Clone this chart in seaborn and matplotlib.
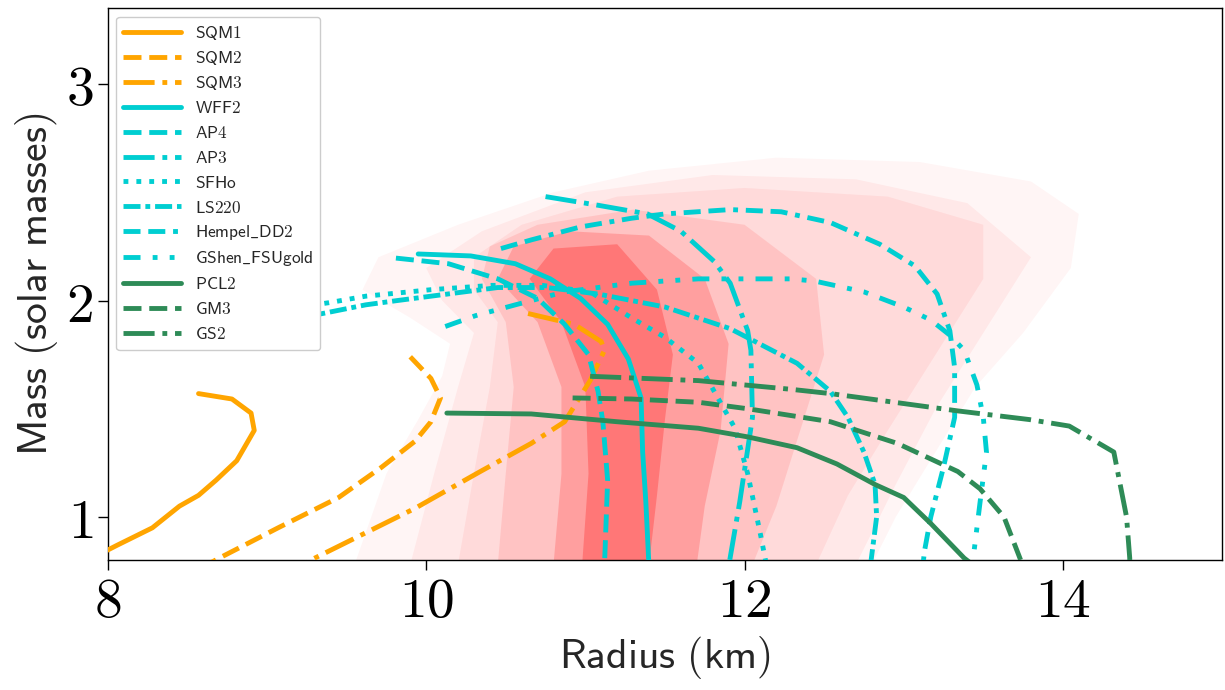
import pandas as pd
import seaborn as sns
from matplotlib import pyplot as plt
from matplotlib.lines import Line2D
from matplotlib.ticker import FuncFormatter

# mass-radius curves: radius (km), mass (solar masses)
sqm1_r = [8.57, 8.78, 8.90, 8.92, 8.81, 8.68, 8.57, 8.45, 8.28, 8.06, 7.90]
sqm1_m = [1.57, 1.545, 1.48, 1.40, 1.26, 1.17, 1.10, 1.05, 0.95, 0.87, 0.81]
sqm2_r = [9.90, 10.03, 10.09, 10.03, 9.93, 9.72, 9.45, 9.07, 8.70, 8.60]
sqm2_m = [1.74, 1.64, 1.55, 1.44, 1.35, 1.23, 1.09, 0.95, 0.81, 0.77]
sqm3_r = [10.64, 10.93, 11.10, 11.12, 11.03, 10.87, 10.66, 10.34, 9.93, 9.30, 9.20]
sqm3_m = [1.94, 1.89, 1.81, 1.77, 1.63, 1.44, 1.34, 1.21, 1.04, 0.81, 0.77]
wff2_r = [9.95, 10.28, 10.56, 10.78, 10.97, 11.14, 11.27, 11.35, 11.36, 11.38, 11.40]
wff2_m = [2.215, 2.206, 2.17, 2.10, 2.01, 1.89, 1.73, 1.55, 1.30, 1.07, 0.77]
ap4_r = [9.81, 10.14, 10.45, 10.70, 10.87, 11.02, 11.08, 11.11, 11.14, 11.12]
ap4_m = [2.196, 2.17, 2.10, 2.01, 1.89, 1.75, 1.58, 1.44, 1.17, 0.77]
ap3_r = [10.75, 11.08, 11.39, 11.60, 11.81, 11.91, 12.02, 12.04, 12.05, 11.97, 11.90]
ap3_m = [2.48, 2.44, 2.40, 2.32, 2.18, 2.08, 1.86, 1.77, 1.46, 1.07, 0.77]
sfho_r = [9.20, 9.39, 9.62, 10.03, 10.41, 10.73, 11.03, 11.29, 11.50, 11.71, 11.94, 12.02, 12.10, 12.14]
sfho_m = [1.97, 1.99, 2.02, 2.05, 2.07, 2.07, 2.04, 1.92, 1.83, 1.71, 1.41, 1.20, 0.92, 0.77]
ls220_r = [9.20, 9.35, 9.62, 9.82, 10.03, 10.24, 10.45, 10.76, 11.08, 11.50, 11.91,
           12.33, 12.54, 12.65, 12.75, 12.82, 12.83, 12.79]
ls220_m = [1.92, 1.94, 1.98, 2.00, 2.02, 2.04, 2.06, 2.06, 2.03, 1.97, 1.87,
           1.71, 1.58, 1.46, 1.30, 1.15, 1.00, 0.77]
dd2_r = [10.47, 10.66, 10.97, 11.29, 11.50, 11.91, 12.23, 12.54, 12.85, 13.07,
         13.21, 13.29, 13.32, 13.32, 13.25, 13.17, 13.13, 13.12]
dd2_m = [2.24, 2.28, 2.34, 2.38, 2.40, 2.42, 2.41, 2.36, 2.26, 2.16,
         2.03, 1.86, 1.69, 1.46, 1.23, 1.00, 0.84, 0.77]
fsu_r = [10.12, 10.31, 10.56, 10.87, 11.29, 11.71, 12.29, 12.44, 12.75, 13.00,
         13.17, 13.29, 13.38, 13.46, 13.50, 13.52, 13.48, 13.43]
fsu_m = [1.88, 1.93, 1.98, 2.04, 2.08, 2.10, 2.10, 2.09, 2.04, 1.97,
         1.91, 1.84, 1.77, 1.61, 1.46, 1.30, 1.07, 0.77]
pcl2_r = [10.13, 10.66, 11.20, 11.71, 12.02, 12.33, 12.58, 12.82, 13.00, 13.17, 13.38, 13.45]
pcl2_m = [1.48, 1.476, 1.44, 1.41, 1.37, 1.32, 1.245, 1.15, 1.09, 0.97, 0.81, 0.77]
gm3_r = [10.92, 11.29, 11.71, 12.02, 12.54, 12.96, 13.34, 13.48, 13.63, 13.73, 13.75]
gm3_m = [1.55, 1.545, 1.53, 1.50, 1.44, 1.34, 1.21, 1.13, 1.00, 0.81, 0.77]
gs2_r = [11.03, 11.71, 12.29, 12.54, 13.34, 13.79, 14.04, 14.32, 14.36, 14.40, 14.42, 14.42]
gs2_m = [1.65, 1.63, 1.59, 1.57, 1.49, 1.45, 1.42, 1.30, 1.15, 1.00, 0.81, 0.77]

eos_names = ['SQM1', 'SQM2', 'SQM3', 'WFF2', 'AP4', 'AP3', 'SFHo', 'LS220',
             'Hempel_DD2', 'GShen_FSUgold', 'PCL2', 'GM3', 'GS2']
eos_data = [(sqm1_r, sqm1_m), (sqm2_r, sqm2_m), (sqm3_r, sqm3_m), (wff2_r, wff2_m),
            (ap4_r, ap4_m), (ap3_r, ap3_m), (sfho_r, sfho_m), (ls220_r, ls220_m),
            (dd2_r, dd2_m), (fsu_r, fsu_m), (pcl2_r, pcl2_m), (gm3_r, gm3_m), (gs2_r, gs2_m)]

# posterior cloud drawn as nested density bands (outer -> inner), polygon vertices
band_r = [
    [9.55, 9.75, 9.95, 10.1, 10.15, 9.9, 9.6, 9.7, 10.2, 10.8, 11.4, 12.2, 13.1, 13.8,
     14.1, 14.05, 13.75, 13.45, 13.2, 12.95, 12.8],
    [9.9, 10.05, 10.2, 10.3, 10.1, 10.0, 10.35, 11.0, 11.8, 12.7, 13.4, 13.8, 13.5,
     13.2, 12.95, 12.7],
    [10.2, 10.3, 10.4, 10.45, 10.3, 10.3, 10.6, 11.2, 12.0, 12.9, 13.5, 13.5, 13.2,
     12.9, 12.65, 12.45],
    [10.45, 10.5, 10.55, 10.5, 10.35, 10.4, 10.7, 11.3, 12.0, 12.45, 12.5, 12.35, 12.2, 12.05],
    [10.8, 10.85, 10.85, 10.7, 10.45, 10.55, 10.9, 11.4, 11.75, 11.9, 11.85, 11.75, 11.7],
    [10.98, 11.02, 11.0, 10.85, 10.65, 10.8, 11.2, 11.45, 11.55, 11.5, 11.45, 11.4],
]
band_m = [
    [0.78, 1.2, 1.45, 1.65, 1.8, 1.92, 2.05, 2.2, 2.35, 2.5, 2.6, 2.66, 2.64, 2.55,
     2.4, 2.15, 1.85, 1.6, 1.3, 1.0, 0.78],
    [0.78, 1.2, 1.6, 1.85, 2.0, 2.15, 2.32, 2.5, 2.58, 2.56, 2.45, 2.2, 1.85, 1.5, 1.15, 0.78],
    [0.78, 1.2, 1.6, 1.9, 2.05, 2.2, 2.35, 2.48, 2.52, 2.48, 2.35, 2.1, 1.75, 1.4, 1.1, 0.78],
    [0.78, 1.2, 1.6, 1.9, 2.1, 2.25, 2.35, 2.42, 2.35, 2.1, 1.75, 1.4, 1.05, 0.78],
    [0.78, 1.2, 1.6, 1.9, 2.1, 2.25, 2.32, 2.3, 2.1, 1.8, 1.4, 1.05, 0.78],
    [0.78, 1.2, 1.6, 1.9, 2.1, 2.24, 2.26, 2.05, 1.75, 1.45, 1.1, 0.78],
]
band_alpha = [0.04, 0.05, 0.06, 0.1, 0.18, 0.25]

x_ticks = [8, 10, 12, 14]
y_ticks = [1, 2, 3]

palette = {n: 'orange' for n in eos_names[:3]}
palette.update({n: 'darkturquoise' for n in eos_names[3:10]})
palette.update({n: 'seagreen' for n in eos_names[10:]})
dashes = {
    'SQM1': '', 'SQM2': (3.7, 1.6), 'SQM3': (6.4, 1.6, 1, 1.6),
    'WFF2': '', 'AP4': (3.7, 1.6), 'AP3': (6.4, 1.6, 1, 1.6),
    'SFHo': (1, 1.65), 'LS220': (3.5, 1, 1, 1),
    'Hempel_DD2': (3.5, 1.6, 3.5, 1.6, 1, 1.6),
    'GShen_FSUgold': (3.5, 2.5, 1, 2.5, 1, 2.5),
    'PCL2': '', 'GM3': (3.7, 1.6), 'GS2': (6.4, 1.6, 1, 1.6),
}

df = pd.concat([pd.DataFrame({'eos': n, 'R': r, 'M': m})
                for n, (r, m) in zip(eos_names, eos_data)], ignore_index=True)

sns.set_style('ticks')
plt.rcParams['mathtext.fontset'] = 'cm'
plt.rcParams['font.family'] = ['DejaVu Sans']

fig = plt.figure(figsize=(12.25, 6.9), dpi=100)
ax = fig.add_axes([0.088, 0.188, 0.9096, 0.8])

for r, m, a in zip(band_r, band_m, band_alpha):
    ax.fill(r, m, color='red', alpha=a, lw=0, zorder=1)

lw = 3.5
sns.lineplot(data=df, x='R', y='M', hue='eos', style='eos', hue_order=eos_names,
             style_order=eos_names, palette=palette, dashes=dashes, sort=False,
             estimator=None, lw=lw, legend=False, ax=ax, zorder=3)

ax.set_xlim(8, 15)
ax.set_ylim(0.8, 3.35)
ax.set_xticks(x_ticks)
ax.set_yticks(y_ticks)
fmt = FuncFormatter(lambda v, p: r'$%d$' % v)
ax.xaxis.set_major_formatter(fmt)
ax.yaxis.set_major_formatter(fmt)
ax.tick_params(labelsize=40, length=7, width=1, colors='black')
for s in ax.spines.values():
    s.set_color('black')
    s.set_linewidth(1.0)
ax.set_xlabel(r'$\mathsf{Radius\ (km)}$', fontsize=30)
ax.set_ylabel(r'$\mathsf{Mass\ (solar\ masses)}$', fontsize=30)

handles = [Line2D([0], [0], color=palette[n], lw=lw,
                  linestyle='-' if dashes[n] == '' else (0, dashes[n])) for n in eos_names]
labels = [r'$\mathsf{%s}$' % n.replace('_', r'\_') for n in eos_names]
leg = ax.legend(handles, labels, loc='upper left', fontsize=12.5, handlelength=3.3,
                labelspacing=0.4, framealpha=1, borderaxespad=0.5)
leg.set_zorder(5)

fig.savefig('out.png', dpi=100)
